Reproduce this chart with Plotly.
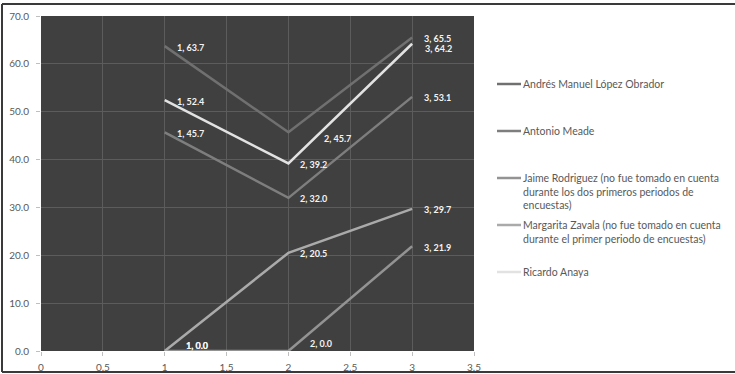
import plotly.graph_objects as go

# Survey periods and candidate percentages
periodos = [1, 2, 3]
amlo = [63.7, 45.7, 65.5]
meade = [45.7, 32.0, 53.1]
jaime = [0.0, 0.0, 21.9]
zavala = [0.0, 20.5, 29.7]
anaya = [52.4, 39.2, 64.2]

nombres = [
    "Andrés Manuel López Obrador",
    "Antonio Meade",
    "Jaime Rodriguez (no fue tomado en cuenta<br>durante los dos primeros periodos de<br>encuestas)",
    "Margarita Zavala (no fue tomado en cuenta<br>durante el primer periodo de encuestas)",
    "Ricardo Anaya",
]
series = [amlo, meade, jaime, zavala, anaya]

x_ticks = [0, 0.5, 1, 1.5, 2, 2.5, 3, 3.5]
x_tick_text = ["0", "0.5", "1", "1.5", "2", "2.5", "3", "3.5"]
y_ticks = [0, 10, 20, 30, 40, 50, 60, 70]

# Styling
colores = ["#707070", "#7e7e7e", "#939393", "#aaaaaa", "#e2e2e2"]
FONT = "Lato, 'Liberation Sans', sans-serif"
W, H = 735, 374
ML, MR, MT, MB = 41, 261, 16, 23
PW, PH = W - ML - MR, H - MT - MB

# label offsets (pixels: right, down) for labels nudged away from lines
desplazamientos = {
    (0, 1): (34, 6),
    (4, 2): (11, 5),
    (2, 0): (19, -6),
    (3, 0): (19, -6),
    (2, 1): (20, -8),
}


def px_x(p):
    return (p - ML) / PW


def px_y(p):
    return (H - MB - p) / PH


fig = go.Figure()
for i, (nombre, valores, color) in enumerate(zip(nombres, series, colores)):
    fig.add_trace(go.Scatter(
        x=periodos, y=valores, mode="lines", name=nombre,
        line=dict(color=color, width=2.5), showlegend=False,
    ))

anotaciones = []
for i, valores in enumerate(series):
    for j, (p, v) in enumerate(zip(periodos, valores)):
        dx, dy = desplazamientos.get((i, j), (10, 1))
        anotaciones.append(dict(
            x=p, y=v, xref="x", yref="y", text=f"<b>{p}, {v:.1f}</b>",
            showarrow=False, xanchor="left", yanchor="middle",
            xshift=dx, yshift=-dy,
            font=dict(family=FONT, size=9, color="#f4f4f4"),
        ))

# Legend drawn beside the plot
leyenda_y = [84, 131, 178, 225, 272]
formas = []
for nombre, color, yp in zip(nombres, colores, leyenda_y):
    formas.append(dict(
        type="line", xref="paper", yref="paper",
        x0=px_x(497), x1=px_x(521), y0=px_y(yp), y1=px_y(yp),
        line=dict(color=color, width=2.5),
    ))
    anotaciones.append(dict(
        x=px_x(522), y=px_y(yp - 7), xref="paper", yref="paper",
        text=nombre, showarrow=False, xanchor="left", yanchor="top",
        align="left", borderpad=0,
        font=dict(family=FONT, size=10.5, color="#595959"),
    ))

# Outer frame
for x0, y0, x1, y1 in [(2, 4, W, 4), (2, 4, 2, 372), (2, 372, W, 372)]:
    formas.append(dict(
        type="line", xref="paper", yref="paper",
        x0=px_x(x0), x1=px_x(x1), y0=px_y(y0), y1=px_y(y1),
        line=dict(color="#3a3a3a", width=2),
    ))

fig.update_layout(
    width=W, height=H,
    margin=dict(l=ML, r=MR, t=MT, b=MB),
    paper_bgcolor="white", plot_bgcolor="#404040",
    font=dict(family=FONT, size=10, color="#595959"),
    annotations=anotaciones, shapes=formas,
    showlegend=False,
)
fig.update_xaxes(
    range=[0, 3.5], tickvals=x_ticks, ticktext=x_tick_text,
    showgrid=True, gridcolor="#5c5c5c", gridwidth=1, zeroline=False,
    ticks="outside", ticklen=4, tickcolor="#bfbfbf", ticklabelstandoff=3,
    tickfont=dict(family=FONT, size=10, color="#595959"), automargin=False,
)
fig.update_yaxes(
    range=[0, 70], tickvals=y_ticks, tickformat=".1f",
    showgrid=True, gridcolor="#5c5c5c", gridwidth=1, zeroline=False,
    ticks="outside", ticklen=4, tickcolor="#bfbfbf", ticklabelstandoff=5,
    tickfont=dict(family=FONT, size=10, color="#595959"), automargin=False,
)

fig.write_html("out.html")
